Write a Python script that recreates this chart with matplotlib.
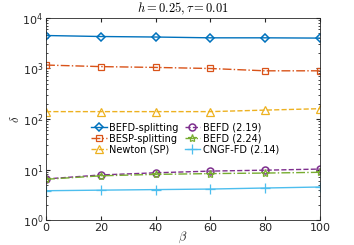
import matplotlib
matplotlib.use("Agg")
import matplotlib.pyplot as plt

plt.rcParams["mathtext.fontset"] = "cm"
plt.rcParams["font.family"] = ["DejaVu Sans"]

beta = [0, 20, 40, 60, 80, 100]
befd_split = [4500, 4300, 4200, 4050, 4050, 4000]
besp_split = [1170, 1090, 1050, 1000, 900, 900]
newton_sp = [140, 140, 140, 140, 150, 160]
befd_219 = [6.5, 7.8, 8.6, 9.3, 9.7, 10.2]
befd_224 = [6.4, 7.5, 8.0, 8.3, 8.5, 8.8]
cngf_fd = [3.8, 3.9, 4.0, 4.1, 4.3, 4.5]

fig = plt.figure(figsize=(3.54, 2.45), dpi=100)
ax = fig.add_axes([46 / 354, 25 / 245, 274 / 354, 202 / 245])

ax.semilogy(beta, befd_split, "-", marker="D", color="#0072BD", mfc="none",
            ms=4.5, mew=1.1, lw=1.0, label="BEFD-splitting")
ax.semilogy(beta, besp_split, "-.", marker="s", color="#D95319", mfc="none",
            ms=4.5, mew=0.9, lw=1.0, label="BESP-splitting")
ax.semilogy(beta, newton_sp, "--", marker="^", color="#EDB120", mfc="none",
            ms=5.5, mew=0.9, lw=1.0, label="Newton (SP)")
ax.semilogy(beta, befd_219, "--", marker="o", color="#7E2F8E", mfc="none",
            ms=5, mew=1.1, lw=1.0, label="BEFD (2.19)")
ax.semilogy(beta, befd_224, "-.", marker="*", color="#77AC30", mfc="none",
            ms=6, mew=0.9, lw=1.0, label="BEFD (2.24)")
ax.semilogy(beta, cngf_fd, "-", marker="+", color="#4DBEEE",
            ms=7, mew=0.9, lw=1.0, label="CNGF-FD (2.14)")

ax.set_xlim(0, 100)
ax.set_ylim(1, 1e4)
ax.set_xticks(beta)
ax.tick_params(which="both", direction="in", top=True, right=True,
               labelsize=8, colors="#262626", pad=2)
ax.tick_params(which="major", length=3)
ax.tick_params(which="minor", length=1.5)
for s in ax.spines.values():
    s.set_color("#262626")
    s.set_linewidth(0.6)

ax.set_xlabel(r"$\beta$", fontsize=9, color="#262626", labelpad=-2)
ax.set_ylabel(r"$\delta$", fontsize=9, color="#262626", labelpad=0)
ax.set_title(r"$h=0.25, \tau=0.01$", fontsize=9, pad=4)

ax.legend(ncol=2, loc="upper left", bbox_to_anchor=(0.15, 0.5),
          frameon=False, fontsize=7, handlelength=1.6, handletextpad=0.3,
          labelspacing=0.1, columnspacing=0.6, borderaxespad=0)

fig.savefig("out.png", dpi=100)
